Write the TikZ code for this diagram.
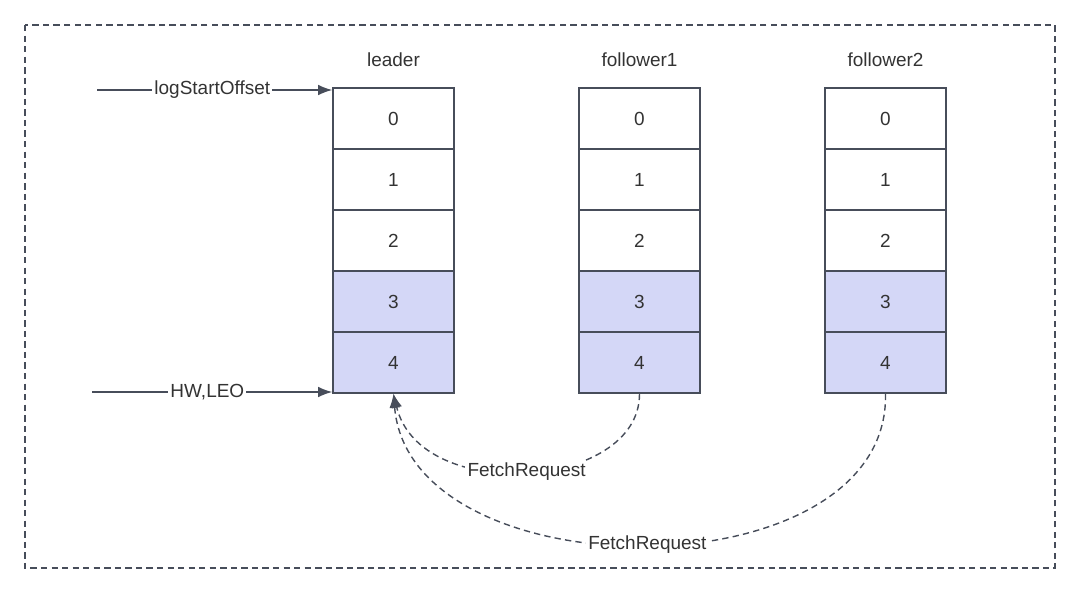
\documentclass[tikz,border=0pt]{standalone}
\usepackage{fontspec}
\setmainfont{Liberation Sans}
\usepackage{tikz}
\usetikzlibrary{arrows.meta}

\definecolor{cellfill}{HTML}{D4D7F7}
\definecolor{linegray}{HTML}{474D5A}
\definecolor{textgray}{HTML}{333333}

\begin{document}
\begin{tikzpicture}[x=0.025cm, y=-0.025cm, font=\fontsize{13.5}{16}\selectfont, text=textgray,
  cell/.style={draw=linegray, line width=1pt, fill=white, inner sep=0pt, minimum width=3.025cm, minimum height=1.525cm},
  new cell/.style={cell, fill=cellfill},
  title node/.style={inner sep=1pt},
  ptr/.style={-{Latex[length=10pt,width=7.5pt]}, draw=linegray, line width=1pt},
  fetch/.style={ptr, dash pattern=on 4.5pt off 3pt},
  tag/.style={fill=white, inner sep=1.5pt}]
\useasboundingbox (0,0) rectangle (1080,614);
\draw[linegray, line width=0.9pt, dash pattern=on 4.5pt off 3pt] (25,25) rectangle (1055,568);

\node	[title node]	(leader) at (393.5,60)	{leader};
\node	[title node]	(f1) at (639.5,60)	{follower1};
\node	[title node]	(f2) at (885.5,60)	{follower2};

\foreach \col/\x in {l/393.5, fa/639.5, fb/885.5} {
  \foreach \i in {0,1,2}
    \node [cell] (\col\i) at (\x,118.5+61*\i) {\i};
  \foreach \i in {3,4}
    \node [new cell] (\col\i) at (\x,118.5+61*\i) {\i};
}

\coordinate (start) at (97,90);
\coordinate (hw) at (92,392);
\draw [ptr] (start) -- node [tag, pos=0.49] {logStartOffset} (start -| l0.west);
\draw [ptr] (hw) -- node [tag, pos=0.48] {HW,LEO} (hw -| l4.west);

\draw [fetch] (fa4.south) .. controls (640,490) and (420,505) .. node [tag, pos=0.5] {FetchRequest} (l4.south);
\draw [fetch] (fb4.south) .. controls (890,595) and (410,595) .. node [tag, pos=0.5] {FetchRequest} (l4.south);
\end{tikzpicture}
\end{document}
